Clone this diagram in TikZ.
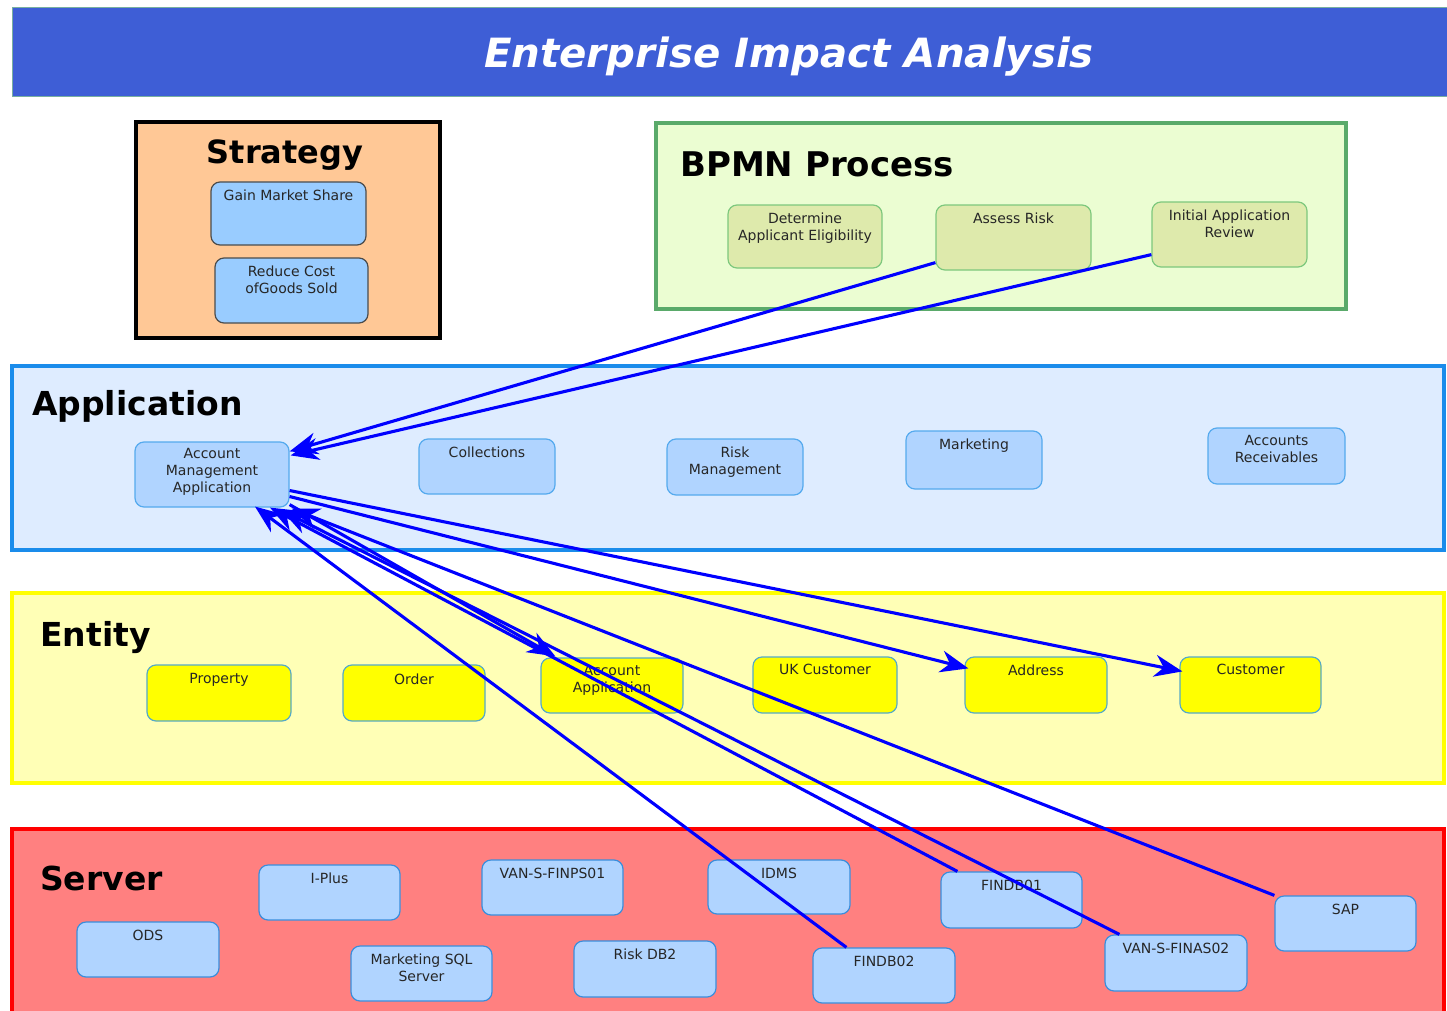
\documentclass[tikz,border=0pt]{standalone}
\usepackage{fontspec}
\setmainfont{DejaVu Sans}
\usetikzlibrary{arrows.meta,calc}
\definecolor{titleblue}{RGB}{62,94,214}
\definecolor{titleline}{RGB}{120,175,160}
\definecolor{stratfill}{RGB}{255,200,150}
\definecolor{stratbox}{RGB}{153,204,255}
\definecolor{bpmnfill}{RGB}{235,253,210}
\definecolor{bpmnline}{RGB}{90,170,106}
\definecolor{bpmnbox}{RGB}{222,234,172}
\definecolor{bpmnboxline}{RGB}{125,200,125}
\definecolor{appfill}{RGB}{222,236,255}
\definecolor{appline}{RGB}{26,140,235}
\definecolor{appbox}{RGB}{176,212,255}
\definecolor{appboxline}{RGB}{85,170,238}
\definecolor{entfill}{RGB}{255,255,182}
\definecolor{entline}{RGB}{255,255,0}
\definecolor{entbox}{RGB}{255,255,0}
\definecolor{entboxline}{RGB}{85,170,200}
\definecolor{srvfill}{RGB}{255,128,128}
\definecolor{srvline}{RGB}{255,0,0}
\definecolor{srvboxline}{RGB}{58,142,220}
\definecolor{arrowblue}{RGB}{0,0,255}
\begin{document}
\begin{tikzpicture}[x=1pt,y=-1pt,
  box/.style={draw, rounded corners=9pt, line width=1.2pt, minimum width=142pt, minimum height=56pt, inner sep=0pt},
  lbl/.style={anchor=north, inner sep=0pt, yshift=-8pt, font=\fontsize{14}{17}\selectfont, align=center, text=black!85},
  sbox/.style={box, fill=stratbox, draw=black!70},
  pbox/.style={box, fill=bpmnbox, draw=bpmnboxline},
  abox/.style={box, fill=appbox, draw=appboxline},
  ebox/.style={box, fill=entbox, draw=entboxline},
  vbox/.style={box, fill=appbox, draw=srvboxline},
  bandtitle/.style={inner sep=0pt, font=\fontsize{33}{40}\selectfont\bfseries, text=black},
  conn/.style={draw=arrowblue, line width=3.1pt, -{Stealth[length=28pt,width=22pt,inset=9pt]}}
]
\useasboundingbox (0,0) rectangle (1447,1011);
\clip (0,0) rectangle (1447,1011);
\fill[white] (0,0) rectangle (1447,1011);

% title bar
\draw[fill=titleblue, draw=titleline, line width=1pt] (12,8) rectangle (1460,97);
\node[inner sep=0pt, anchor=base, text=white, font=\fontsize{40.3}{48}\selectfont\bfseries\itshape] (title) at (789,68) {Enterprise Impact Analysis};

% Strategy
\draw[fill=stratfill, draw=black, line width=4.5pt] (136,122) rectangle (440,338);
\node[bandtitle, anchor=base, font=\fontsize{32}{38}\selectfont\bfseries] (tstrat) at (285,164) {Strategy};
\node[sbox, minimum width=155pt, minimum height=63pt, label={[lbl]north:{Gain Market Share}}] (gms) at (288.5,213.5) {};
\node[sbox, minimum width=153pt, minimum height=65pt, label={[lbl]north:{Reduce Cost\\ofGoods Sold}}] (rcg) at (291.5,290.5) {};

% BPMN
\draw[fill=bpmnfill, draw=bpmnline, line width=4pt] (656,123) rectangle (1346,309);
\node[bandtitle, anchor=base west, font=\fontsize{34}{40}\selectfont\bfseries] (tbpmn) at (680,176.7) {BPMN Process};
\node[pbox, minimum width=154pt, minimum height=63pt, label={[lbl]north:{Determine\\Applicant Eligibility}}] (dae) at (805,236.5) {};
\node[pbox, minimum width=155pt, minimum height=65pt, label={[lbl]north:{Assess Risk}}] (ar) at (1013.5,237.5) {};
\node[pbox, minimum width=155pt, minimum height=65pt, label={[lbl]north:{Initial Application\\Review}}] (iar) at (1229.5,234.5) {};

% Application band
\draw[fill=appfill, draw=appline, line width=4pt] (12,366) rectangle (1444,550);
\node[bandtitle, anchor=base west] (tapp) at (32,415) {Application};
\node[abox, minimum width=154pt, minimum height=65pt, label={[lbl, yshift=1pt]north:{Account\\Management\\Application}}] (ama) at (212,474.5) {};
\node[abox, minimum width=136pt, minimum height=55pt, label={[lbl]north:{Collections}}] (col) at (487,466.5) {};
\node[abox, minimum width=136pt, minimum height=56pt, label={[lbl]north:{Risk\\Management}}] (rm) at (735,467) {};
\node[abox, minimum width=136pt, minimum height=58pt, label={[lbl]north:{Marketing}}] (mkt) at (974,460) {};
\node[abox, minimum width=137pt, minimum height=56pt, label={[lbl]north:{Accounts\\Receivables}}] (arc) at (1276.5,456) {};

% Entity band
\draw[fill=entfill, draw=entline, line width=4pt] (12,593) rectangle (1444,783);
\node[bandtitle, anchor=base west] (tent) at (40,646.7) {Entity};
\node[ebox, minimum width=144pt, label={[lbl, yshift=-1pt]north:{Property}}] (prop) at (219,693) {};
\node[ebox, label={[lbl, yshift=-1pt]north:{Order}}] (ord) at (414,693) {};
\node[ebox, minimum height=55pt, label={[lbl]north:{Account\\Application}}] (aap) at (612,685.5) {};
\node[ebox, minimum width=144pt, label={[lbl]north:{UK Customer}}] (ukc) at (825,685) {};
\node[ebox, label={[lbl]north:{Address}}] (addr) at (1036,685) {};
\node[ebox, minimum width=141pt, label={[lbl]north:{Customer}}] (cust) at (1250.5,685) {};

% Server band
\draw[fill=srvfill, draw=srvline, line width=4pt] (12,829) rectangle (1444,1030);
\node[bandtitle, anchor=base west] (tsrv) at (40,890) {Server};
\node[vbox, minimum width=141pt, minimum height=55pt, label={[lbl]north:{I-Plus}}] (iplus) at (329.5,892.5) {};
\node[vbox, minimum width=141pt, minimum height=55pt, label={[lbl]north:{VAN-S-FINPS01}}] (vfinps) at (552.5,887.5) {};
\node[vbox, minimum height=54pt, label={[lbl]north:{IDMS}}] (idms) at (779,887) {};
\node[vbox, minimum width=141pt, label={[lbl]north:{FINDB01}}] (findb01) at (1011.5,900) {};
\node[vbox, minimum width=141pt, minimum height=55pt, label={[lbl]north:{SAP}}] (sap) at (1345.5,923.5) {};
\node[vbox, minimum height=55pt, label={[lbl]north:{ODS}}] (ods) at (148,949.5) {};
\node[vbox, minimum width=141pt, minimum height=55pt, label={[lbl]north:{Marketing SQL\\Server}}] (msql) at (421.5,973.5) {};
\node[vbox, label={[lbl]north:{Risk DB2}}] (riskdb2) at (645,969) {};
\node[vbox, minimum height=55pt, label={[lbl]north:{FINDB02}}] (findb02) at (884,975.5) {};
\node[vbox, label={[lbl]north:{VAN-S-FINAS02}}] (vfinas) at (1176,963) {};

% connectors
\draw[conn] ($(ar.south west)+(0,-8)$) -- ($(ama.north east)+(0,10)$);
\draw[conn] ($(iar.south west)+(0,-13)$) -- ($(ama.north east)+(1,14)$);
\draw[conn] ($(ama.east)+(0,16)$) -- ($(cust.north west)+(3,15)$);
\draw[conn] ($(ama.east)+(0,22)$) -- ($(addr.north west)+(4,12)$);
\draw[conn] ($(ama.south east)+(0,-3)$) -- ($(aap.north west)+(15,-1)$);
\draw[conn] ($(findb02.north west)+(34,0)$) -- ($(ama.south)+(43,-1)$);
\draw[conn] ($(findb01.north west)+(17,0)$) -- ($(ama.south)+(58,0)$);
\draw[conn] ($(vfinas.north west)+(15,0)$) -- ($(ama.south)+(70,3)$);
\draw[conn] (sap.north west) -- ($(ama.south east)+(2,1)$);
\end{tikzpicture}
\end{document}
